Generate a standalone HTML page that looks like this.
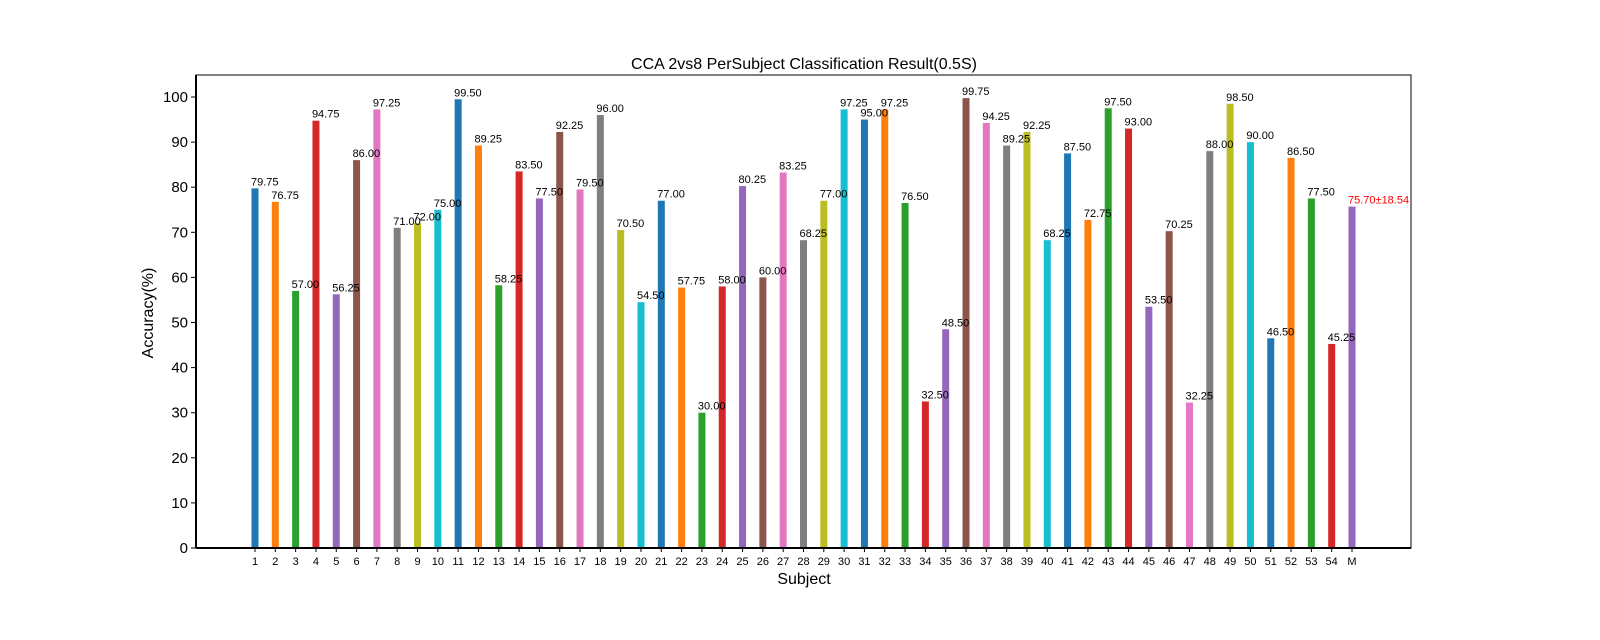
<!DOCTYPE html>
<html><head><meta charset="utf-8"><style>
html,body{margin:0;padding:0;background:#fff;overflow:hidden;width:1600px;height:640px;}
svg{display:block;font-family:"Liberation Sans","DejaVu Sans",sans-serif;}
</style></head><body>
<svg id="chart" width="1600" height="640" viewBox="0 0 1600 640" xmlns="http://www.w3.org/2000/svg">
<text x="804" y="69" text-anchor="middle" font-size="16">CCA 2vs8 PerSubject Classification Result(0.5S)</text>
<text x="153" y="313" text-anchor="middle" font-size="16" transform="rotate(-90 153 313)">Accuracy(%)</text>
<text x="804" y="584" text-anchor="middle" font-size="16">Subject</text>
<g id="marks"></g>
<g id="labels"></g>
<rect x="196" y="75" width="1215" height="473" fill="none" stroke="#000" stroke-width="1"/>
<line x1="196" y1="548" x2="1411" y2="548" stroke="#000" stroke-width="2"/>
<line x1="196" y1="75" x2="196" y2="548" stroke="#000" stroke-width="2"/>
</svg>
<script>
const categories = ["1","2","3","4","5","6","7","8","9","10","11","12","13","14","15","16","17","18","19","20","21","22","23","24","25","26","27","28","29","30","31","32","33","34","35","36","37","38","39","40","41","42","43","44","45","46","47","48","49","50","51","52","53","54","M"];
const values = [79.75,76.75,57.00,94.75,56.25,86.00,97.25,71.00,72.00,75.00,99.50,89.25,58.25,83.50,77.50,92.25,79.50,96.00,70.50,54.50,77.00,57.75,30.00,58.00,80.25,60.00,83.25,68.25,77.00,97.25,95.00,97.25,76.50,32.50,48.50,99.75,94.25,89.25,92.25,68.25,87.50,72.75,97.50,93.00,53.50,70.25,32.25,88.00,98.50,90.00,46.50,86.50,77.50,45.25,75.70];
const meanLabel = "75.70±18.54";
const yTicks = [0,10,20,30,40,50,60,70,80,90,100];
const colors = ["#1f77b4","#ff7f0e","#2ca02c","#d62728","#9467bd","#8c564b","#e377c2","#7f7f7f","#bcbd22","#17becf"];
const NS="http://www.w3.org/2000/svg";
const svg=document.getElementById('chart');
const g=document.getElementById('marks');
const gl=document.getElementById('labels');
const xPos=i=>255+i*(1352-255)/54;
const yPos=v=>548-v*4.51;
function mk(tag,attrs){const e=document.createElementNS(NS,tag);for(const k in attrs)e.setAttribute(k,attrs[k]);return e;}
yTicks.forEach(t=>{
  const l=mk('line',{x1:191,x2:196,y1:yPos(t),y2:yPos(t),stroke:'#000'});
  
  
  svg.appendChild(l);
  const tx=mk('text',{x:188,y:yPos(t)+5,'text-anchor':'end','font-size':15});
  tx.textContent=t;
  
  
  svg.appendChild(tx);
});
values.forEach((v,i)=>{
  const x=xPos(i);
  const r=mk('rect',{x:x-3.5,y:yPos(v),width:7,height:548-yPos(v),fill:colors[i%10]});
  
  
  g.appendChild(r);
  const isM=i===values.length-1;
  const lab=mk('text',{x:x-4,y:yPos(v)-3,'font-size':11,fill:isM?'#ff0000':'#000'});
  lab.textContent=isM?meanLabel:v.toFixed(2);
  
  
  gl.appendChild(lab);
  const tk=mk('line',{x1:x,x2:x,y1:548,y2:552,stroke:'#000'});
  
  
  svg.appendChild(tk);
  const tl=mk('text',{x:x,y:565,'text-anchor':'middle','font-size':11});
  tl.textContent=categories[i];
  
  
  svg.appendChild(tl);
});
</script>
</body></html>
